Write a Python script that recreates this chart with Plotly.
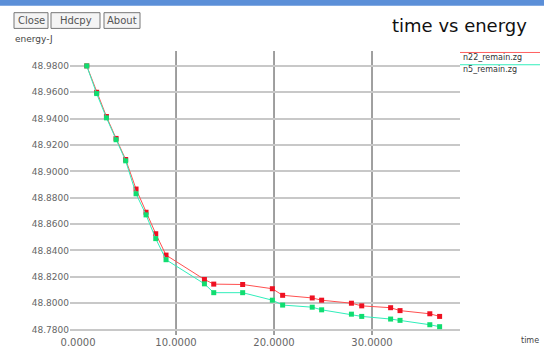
import plotly.graph_objects as go

# ---- data ----
time_n22 = [0.89, 1.9, 2.9, 3.88, 4.86, 5.92, 6.94, 7.93, 8.98, 12.9, 13.85, 16.8,
            19.83, 20.88, 23.9, 24.86, 27.9, 28.95, 31.9, 32.86, 35.9, 36.9]
energy_n22 = [48.980, 48.960, 48.9416, 48.925, 48.909, 48.8866, 48.869, 48.8527,
              48.8365, 48.818, 48.8145, 48.8142, 48.811, 48.806, 48.804, 48.8023,
              48.800, 48.798, 48.7966, 48.7944, 48.792, 48.790]
time_n5 = [0.89, 1.9, 2.9, 3.88, 4.86, 5.92, 6.94, 7.93, 8.98, 12.9, 13.85, 16.8,
           19.83, 20.88, 23.9, 24.86, 27.9, 28.95, 31.9, 32.86, 35.9, 36.9]
energy_n5 = [48.980, 48.959, 48.9406, 48.924, 48.908, 48.883, 48.867, 48.849,
             48.833, 48.8147, 48.808, 48.808, 48.8023, 48.7986, 48.797, 48.795,
             48.7917, 48.790, 48.788, 48.787, 48.7837, 48.7822]
series_names = ["n22_remain.zg", "n5_remain.zg"]
x_ticks = [0, 10, 20, 30]
y_ticks = [48.98, 48.96, 48.94, 48.92, 48.90, 48.88, 48.86, 48.84, 48.82, 48.80, 48.78]

W, H = 544, 360
L, R, T, B = 70, 460, 51, 340

def px(x):
    return (x - L) / (R - L)

def py(y):
    return (B - y) / (B - T)

fig = go.Figure()
fig.add_trace(go.Scatter(x=time_n22, y=energy_n22, mode="lines+markers",
                         name=series_names[0], showlegend=False,
                         line=dict(color="#ff5050", width=1),
                         marker=dict(color="#ee1122", size=5, symbol="square")))
fig.add_trace(go.Scatter(x=time_n5, y=energy_n5, mode="lines+markers",
                         name=series_names[1], showlegend=False,
                         line=dict(color="#30eebb", width=1),
                         marker=dict(color="#10dd70", size=5, symbol="square")))

shapes = []
annotations = []
# vertical grid lines (darker)
for xv in x_ticks[1:]:
    shapes.append(dict(type="line", xref="x", yref="paper", x0=xv, x1=xv, y0=0, y1=1,
                       line=dict(color="#808080", width=1.5), layer="below"))
# top blue bar
shapes.append(dict(type="rect", xref="paper", yref="paper", x0=px(0), x1=px(W),
                   y0=py(5), y1=py(-2), fillcolor="#5b8fd8", line=dict(width=0)))
# buttons
for lbl, x0, x1 in [("Close", 14, 48), ("Hdcpy", 51, 100), ("About", 104, 140)]:
    shapes.append(dict(type="rect", xref="paper", yref="paper", x0=px(x0), x1=px(x1),
                       y0=py(28), y1=py(12), fillcolor="#f4f4f4",
                       line=dict(color="#777777", width=1)))
    annotations.append(dict(text=lbl, xref="paper", yref="paper", x=px((x0 + x1) / 2),
                            y=py(20), showarrow=False, xanchor="center", yanchor="middle",
                            font=dict(size=10, color="#555555", family="DejaVu Sans")))
# legend lines
shapes.append(dict(type="line", xref="paper", yref="paper", x0=px(460), x1=px(540),
                   y0=py(52.5), y1=py(52.5), line=dict(color="#ff6060", width=1)))
shapes.append(dict(type="line", xref="paper", yref="paper", x0=px(460), x1=px(540),
                   y0=py(65), y1=py(65), line=dict(color="#30eebb", width=1)))
annotations.append(dict(text=series_names[0], xref="paper", yref="paper", x=px(461), y=py(58),
                        showarrow=False, xanchor="left", yanchor="middle",
                        font=dict(size=8, color="#333333", family="DejaVu Sans")))
annotations.append(dict(text=series_names[1], xref="paper", yref="paper", x=px(461), y=py(70),
                        showarrow=False, xanchor="left", yanchor="middle",
                        font=dict(size=8, color="#333333", family="DejaVu Sans")))
# title and axis labels
annotations.append(dict(text="time vs energy", xref="paper", yref="paper", x=px(529), y=py(25),
                        showarrow=False, xanchor="right", yanchor="middle",
                        font=dict(size=18, color="#111111", family="DejaVu Sans")))
annotations.append(dict(text="energy-J", xref="paper", yref="paper", x=px(13), y=py(39),
                        showarrow=False, xanchor="left", yanchor="middle",
                        font=dict(size=9, color="#444444", family="DejaVu Sans")))
annotations.append(dict(text="time", xref="paper", yref="paper", x=px(541), y=py(346),
                        showarrow=False, xanchor="right", yanchor="middle",
                        font=dict(size=8, color="#444444", family="DejaVu Sans")))

fig.update_layout(
    width=W, height=H,
    margin=dict(l=L, r=W - R, t=T, b=H - B, pad=0),
    paper_bgcolor="white", plot_bgcolor="white",
    shapes=shapes, annotations=annotations,
    xaxis=dict(range=[-0.82, 38.98], tickvals=x_ticks,
               ticktext=[f"{v:.4f}" for v in x_ticks], showgrid=False, zeroline=False,
               showline=False, ticks="",
               tickfont=dict(size=10, color="#666666", family="DejaVu Sans")),
    yaxis=dict(range=[48.7759, 48.9913], tickvals=y_ticks,
               ticktext=[f"{v:.4f}" for v in y_ticks], showgrid=True,
               gridcolor="#c8c8c8", gridwidth=1.5, zeroline=False, showline=False,
               ticks="", tickfont=dict(size=9, color="#666666", family="DejaVu Sans")),
)

fig.write_html("out.html", config={"displayModeBar": False},
               post_script="document.body.style.margin='0';")
